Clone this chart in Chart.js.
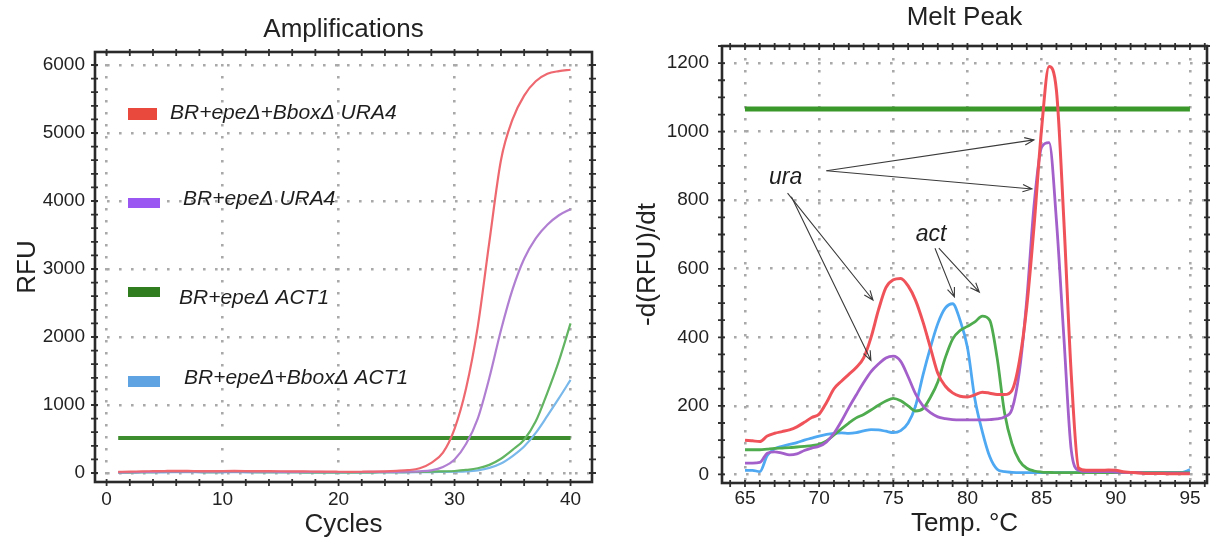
<!DOCTYPE html>
<html><head><meta charset="utf-8">
<script src="https://cdn.jsdelivr.net/npm/chart.js@4.4.0/dist/chart.umd.min.js"></script>
<style>
html,body{margin:0;padding:0;background:#fff;}
#wrap{position:relative;width:1210px;height:541px;overflow:hidden;background:#fff;}
canvas{position:absolute;top:0;}
#c1{left:0;}
#c2{left:605px;}
</style></head><body>
<div id="wrap"><canvas id="c1" width="605" height="541"></canvas><canvas id="c2" width="605" height="541"></canvas></div>
<script>
// ---------- Amplification data ----------
const cycles = [1,2,3,4,5,6,7,8,9,10,11,12,13,14,15,16,17,18,19,20,21,22,23,24,25,26,27,28,29,30,31,32,33,34,35,36,37,38,39,40];
const ampUraBbox = [18,20,24,27,30,32,31,29,28,30,31,30,28,27,26,25,24,22,20,19,18,19,21,25,32,42,70,150,300,650,1250,2150,3400,4600,5200,5550,5760,5870,5910,5930];
const ampUra     = [10,12,15,18,20,22,22,21,20,21,22,21,20,19,18,18,17,16,15,15,15,15,16,17,18,20,25,40,90,200,430,800,1400,2100,2700,3150,3450,3650,3790,3880];
const ampAct     = [8,10,12,14,15,16,16,15,14,15,16,15,14,13,12,12,11,11,10,10,10,10,11,12,13,15,17,20,25,30,45,70,120,210,340,490,760,1180,1650,2200];
const ampActBbox = [5,6,8,10,11,12,12,11,10,11,12,11,10,9,8,8,7,7,6,6,6,6,7,8,9,10,12,14,17,20,25,40,75,140,250,390,590,840,1100,1370];
const ampThreshold = 516;
const ampThresholdCycles = [1, 40];
const ampXTicks = [0,10,20,30,40];
const ampYTicks = [0,1000,2000,3000,4000,5000,6000];
const legendLabels = ['BR+epe\u0394+Bbox\u0394 URA4','BR+epe\u0394 URA4','BR+epe\u0394 ACT1','BR+epe\u0394+Bbox\u0394 ACT1'];

// ---------- Melt peak data ----------
const temps = [65,65.5,66,66.5,67,67.5,68,68.5,69,69.5,
               70,70.5,71,71.5,72,72.5,73,73.5,74,74.5,
               75,75.5,76,76.5,77,77.5,78,78.5,79,79.5,
               80,80.5,81,81.5,82,82.5,83,83.5,84,84.5,
               85,85.5,86,86.5,87,87.5,88,88.5,89,89.5,
               90,90.5,91,91.5,92,92.5,93,93.5,94,94.5,95];
const meltUraBbox = [100,98,96,112,120,125,130,139,152,166,
                     176,210,250,272,292,312,340,400,480,545,
                     568,572,550,508,445,370,295,258,238,228,
                     226,232,240,237,233,233,245,330,490,730,
                     1010,1190,1120,740,290,18,12,12,12,13,
                     12,8,6,4,3,3,3,2,2,2,2];
const meltUra = [33,33,35,62,66,62,57,60,70,77,
                 82,95,120,155,195,232,268,300,322,340,
                 345,330,285,235,200,180,168,163,160,159,
                 159,159,159,160,162,168,190,300,510,790,
                 955,968,740,400,70,12,8,8,8,8,
                 7,6,5,5,4,4,4,4,4,4,4];
const meltAct = [72,72,72,74,76,77,78,80,82,84,
                 88,98,115,133,150,165,175,188,202,214,
                 222,215,200,185,192,225,270,340,395,420,
                 432,445,462,450,340,180,90,40,18,10,
                 7,6,5,5,5,5,5,5,5,5,
                 5,5,5,5,5,5,5,5,5,5,5];
const meltActBbox = [12,12,8,55,75,82,88,93,100,106,
                     112,117,120,121,120,122,127,131,130,126,
                     122,128,150,200,290,370,440,485,498,450,
                     370,220,125,52,15,8,6,5,5,5,
                     5,5,5,5,5,5,5,5,5,5,
                     5,5,5,5,5,5,5,5,5,6,14];
const meltThreshold = 1066;
const meltThresholdTemps = [65, 95];
const meltXTicks = [65,70,75,80,85,90,95];
const meltYTicks = [0,200,400,600,800,1000,1200];
const annotationLabels = [{text:'ura', x:67.74, y:866}, {text:'act', x:77.55, y:700}];
const annotationArrows = [
  [70.49,886,84.48,976],[70.49,886,84.35,833],
  [67.87,821,73.63,509],[68.13,810,73.49,333],
  [77.81,660,79.12,518],[78.07,660,80.80,532]
];

// ---------- helpers ----------
const FONT = "'Liberation Sans', Arial, sans-serif";
Chart.defaults.font.family = FONT;
Chart.defaults.color = '#222';
const toXY = (xs, ys) => xs.map((x, i) => ({x: x, y: ys[i]}));

const framePlugin = {
  id: 'frame',
  afterDraw(chart, args, opts) {
    const {ctx, chartArea: a} = chart;
    const xs = chart.scales.x, ys = chart.scales.y;
    ctx.save();
    ctx.strokeStyle = '#333';
    ctx.lineWidth = 1.8;
    ctx.beginPath();
    for (let v = Math.ceil(xs.min / opts.xStep) * opts.xStep; v <= xs.max; v += opts.xStep) {
      const p = xs.getPixelForValue(v);
      ctx.moveTo(p, a.bottom - 3); ctx.lineTo(p, a.bottom + 4);
      ctx.moveTo(p, a.top - 3); ctx.lineTo(p, a.top + 4);
    }
    for (let v = Math.ceil(ys.min / opts.yStep) * opts.yStep; v <= ys.max; v += opts.yStep) {
      const p = ys.getPixelForValue(v);
      ctx.moveTo(a.left - 4, p); ctx.lineTo(a.left + 3, p);
      ctx.moveTo(a.right - 3, p); ctx.lineTo(a.right + 4, p);
    }
    ctx.stroke();
    ctx.lineWidth = 2.6;
    ctx.strokeStyle = '#2a2a2a';
    ctx.strokeRect(a.left, a.top, a.right - a.left, a.bottom - a.top);
    ctx.restore();
  }
};

const legendPlugin = {
  id: 'ampLegend',
  afterDraw(chart, args, opts) {
    const ctx = chart.ctx;
    ctx.save();
    opts.items.forEach((it) => {
      ctx.fillStyle = it.color;
      ctx.fillRect(it.box[0], it.box[1], it.box[2], it.box[3]);
      ctx.fillStyle = '#1e1e1e';
      ctx.font = 'italic 21px ' + FONT;
      ctx.textAlign = 'left';
      ctx.textBaseline = 'middle';
      ctx.fillText(it.label, it.tx, it.ty);
    });
    ctx.restore();
  }
};

const annotationPlugin = {
  id: 'meltNotes',
  afterDraw(chart, args, opts) {
    const ctx = chart.ctx, xs = chart.scales.x, ys = chart.scales.y;
    ctx.save();
    ctx.fillStyle = '#1e1e1e';
    ctx.font = 'italic 23px ' + FONT;
    ctx.textAlign = 'center';
    ctx.textBaseline = 'middle';
    opts.labels.forEach(l => ctx.fillText(l.text, xs.getPixelForValue(l.x), ys.getPixelForValue(l.y)));
    ctx.strokeStyle = '#3a3a3a';
    ctx.lineWidth = 1.1;
    opts.arrows.forEach(a => {
      const x1 = xs.getPixelForValue(a[0]), y1 = ys.getPixelForValue(a[1]);
      const x2 = xs.getPixelForValue(a[2]), y2 = ys.getPixelForValue(a[3]);
      const ang = Math.atan2(y2 - y1, x2 - x1), L = 10, w = 0.38;
      ctx.beginPath();
      ctx.moveTo(x1, y1); ctx.lineTo(x2, y2);
      ctx.moveTo(x2 - L * Math.cos(ang - w), y2 - L * Math.sin(ang - w));
      ctx.lineTo(x2, y2);
      ctx.lineTo(x2 - L * Math.cos(ang + w), y2 - L * Math.sin(ang + w));
      ctx.stroke();
    });
    ctx.restore();
  }
};

const gridCfg = {color: '#a9a9a9', lineWidth: 2.6, drawTicks: false};
const borderCfg = {display: false, dash: [2.6, 9.4]};

function lineDs(label, data, color, width) {
  return {label, data, borderColor: color, backgroundColor: color, borderWidth: width,
          pointRadius: 0, fill: false, cubicInterpolationMode: 'monotone'};
}

// ---------- Chart 1: Amplifications ----------
new Chart(document.getElementById('c1'), {
  type: 'line',
  data: {
    datasets: [
      lineDs(legendLabels[0], toXY(cycles, ampUraBbox), '#ee6870', 2.2),
      lineDs(legendLabels[1], toXY(cycles, ampUra), '#b07fd2', 2.2),
      lineDs(legendLabels[2], toXY(cycles, ampAct), '#62b462', 2.2),
      lineDs(legendLabels[3], toXY(cycles, ampActBbox), '#79b8ea', 2.2),
      lineDs('threshold', toXY(ampThresholdCycles, [ampThreshold, ampThreshold]), '#3d8c2e', 4)
    ]
  },
  options: {
    responsive: false, animation: false, devicePixelRatio: 1,
    layout: {padding: {left: 0, right: 13, top: 0, bottom: 0}},
    plugins: {
      legend: {display: false}, tooltip: {enabled: false},
      title: {display: true, fullSize: false, text: 'Amplifications', color: '#222',
              font: {size: 26, weight: 'normal'}, padding: {top: 14.4, bottom: 6.4}},
      frame: {xStep: 2, yStep: 200},
      ampLegend: {items: [
        {label: legendLabels[0], color: '#e8493c', box: [128, 108, 29, 12], tx: 170, ty: 113},
        {label: legendLabels[1], color: '#9b57f2', box: [128, 198, 32, 10], tx: 183, ty: 199},
        {label: legendLabels[2], color: '#2f7d1f', box: [128, 287, 32, 10], tx: 179, ty: 298},
        {label: legendLabels[3], color: '#5fa3e3', box: [128, 376, 32, 11], tx: 184, ty: 378}
      ]}
    },
    scales: {
      x: {type: 'linear', min: -1.0, max: 41.85,
          afterFit: s => { s.height = 59; },
          afterBuildTicks: s => { s.ticks = ampXTicks.map(v => ({value: v})); },
          ticks: {padding: 6.6, color: '#222', font: {size: 19}, callback: v => String(v)},
          grid: gridCfg, border: borderCfg,
          title: {display: true, text: 'Cycles', color: '#222', font: {size: 26}, padding: {top: 0, bottom: 0.4}}},
      y: {type: 'linear', min: -132, max: 6191,
          afterFit: s => { s.width = 95; },
          afterBuildTicks: s => { s.ticks = ampYTicks.map(v => ({value: v})); },
          ticks: {padding: 10, color: '#222', font: {size: 19}, callback: v => String(v)},
          grid: gridCfg, border: borderCfg,
          title: {display: true, text: 'RFU', color: '#222', font: {size: 26}, padding: {top: 12.4, bottom: 0}}}
    }
  },
  plugins: [framePlugin, legendPlugin]
});

// ---------- Chart 2: Melt Peak ----------
new Chart(document.getElementById('c2'), {
  type: 'line',
  data: {
    datasets: [
      lineDs('ura Bbox', toXY(temps, meltUraBbox), '#f0525a', 3),
      lineDs('ura', toXY(temps, meltUra), '#a35fca', 2.8),
      lineDs('act', toXY(temps, meltAct), '#4eab4e', 2.8),
      lineDs('act Bbox', toXY(temps, meltActBbox), '#4fa8f2', 2.8),
      lineDs('threshold', toXY(meltThresholdTemps, [meltThreshold, meltThreshold]), '#3a982b', 5)
    ]
  },
  options: {
    responsive: false, animation: false, devicePixelRatio: 1,
    layout: {padding: {left: 0, right: 3, top: 0, bottom: 0}},
    plugins: {
      legend: {display: false}, tooltip: {enabled: false},
      title: {display: true, fullSize: false, text: 'Melt Peak', color: '#222',
              font: {size: 26, weight: 'normal'}, padding: {top: 2.4, bottom: 12.4}},
      frame: {xStep: 1, yStep: 50},
      meltNotes: {labels: annotationLabels, arrows: annotationArrows}
    },
    scales: {
      x: {type: 'linear', min: 63.45, max: 96.15,
          afterFit: s => { s.height = 58; },
          afterBuildTicks: s => { s.ticks = meltXTicks.map(v => ({value: v})); },
          ticks: {padding: 4.6, color: '#222', font: {size: 19}, callback: v => String(v)},
          grid: gridCfg, border: borderCfg,
          title: {display: true, text: 'Temp. \u00B0C', color: '#222', font: {size: 26}, padding: {top: 0, bottom: 1.4}}},
      y: {type: 'linear', min: -25, max: 1250,
          afterFit: s => { s.width = 117; },
          afterBuildTicks: s => { s.ticks = meltYTicks.map(v => ({value: v})); },
          ticks: {padding: 13, color: '#222', font: {size: 19}, callback: v => String(v)},
          grid: gridCfg, border: borderCfg,
          title: {display: true, text: '-d(RFU)/dt', color: '#222', font: {size: 26}, padding: {top: 27.4, bottom: 0}}}
    }
  },
  plugins: [framePlugin, annotationPlugin]
});
</script>
</body></html>
